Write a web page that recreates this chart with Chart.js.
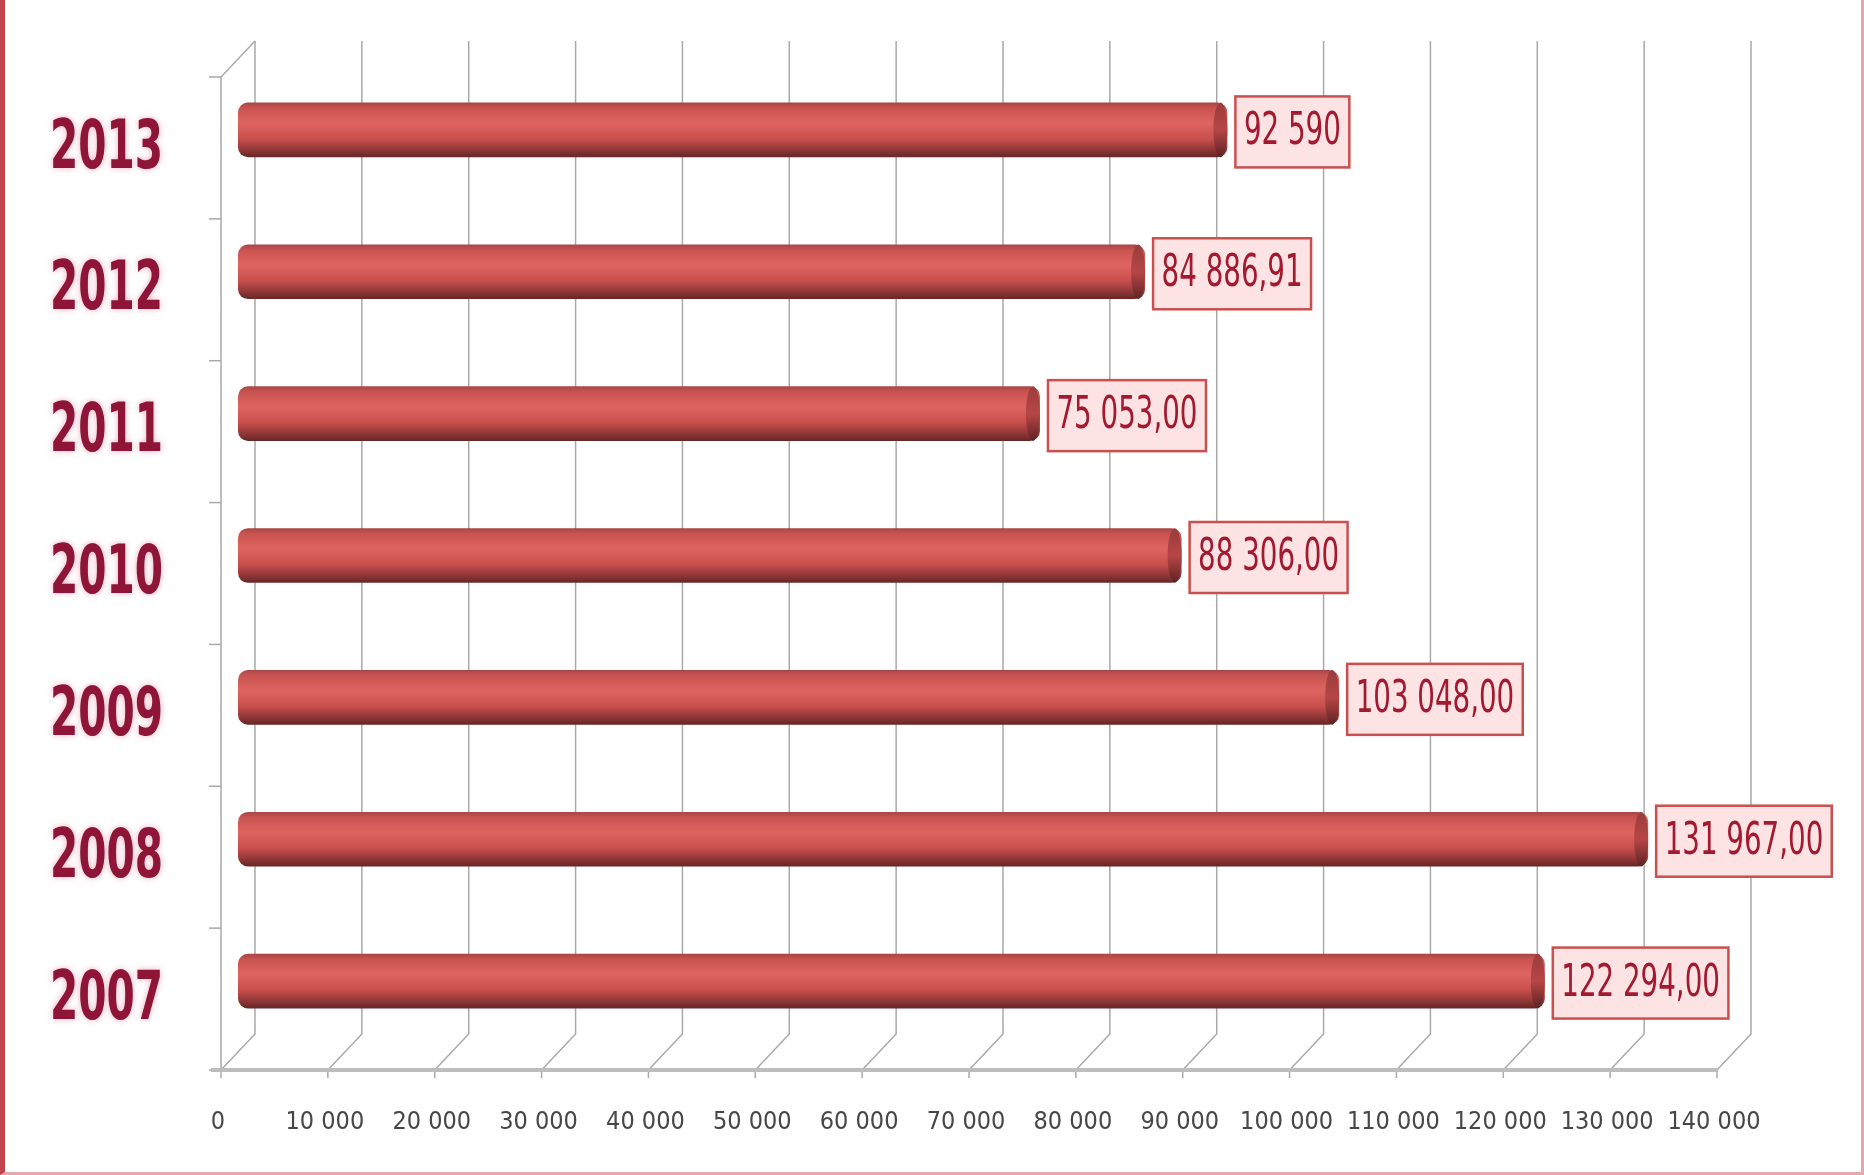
<!DOCTYPE html>
<html>
<head>
<meta charset="utf-8">
<script src="https://cdn.jsdelivr.net/npm/chart.js@4.4.1/dist/chart.umd.min.js"></script>
<style>
  html, body { margin:0; padding:0; background:#fff; }
  #wrap { position:relative; width:1864px; height:1175px; }
  #frame { position:absolute; left:0; top:0; width:1864px; height:1175px; box-sizing:border-box;
           border-left:5px solid #c0444a; border-right:3px solid #e6a9ab; border-bottom:3px solid #e6a9ab; pointer-events:none; }
</style>
</head>
<body>
<div id="wrap">
  <canvas id="chart" width="1864" height="1175"></canvas>
  <div id="frame"></div>
</div>
<script>
// data
const years = ['2013', '2012', '2011', '2010', '2009', '2008', '2007'];
const values = [92590, 84886.91, 75053.00, 88306.00, 103048.00, 131967.00, 122294.00];
const valueLabels = ['92 590', '84 886,91', '75 053,00', '88 306,00', '103 048,00', '131 967,00', '122 294,00'];
const xTickLabels = ['0', '10 000', '20 000', '30 000', '40 000', '50 000', '60 000', '70 000',
  '80 000', '90 000', '100 000', '110 000', '120 000', '130 000', '140 000'];

const NARROW = "'DejaVu Sans Condensed', 'Liberation Sans', sans-serif";
const DX = 17, DY = 18; // half depth of the fake 3d box
const BAR_PCT = 0.385;

function barBox(chart, i){
  const y = chart.scales.y;
  const step = y.getPixelForValue(1) - y.getPixelForValue(0);
  const h = step * BAR_PCT;
  const yc = y.getPixelForValue(i);
  return { top: yc - h/2, bottom: yc + h/2, h };
}

function cylinderFill(ctx){
  const chart = ctx.chart;
  if (!chart.chartArea || ctx.dataIndex === undefined) return '#d05654';
  const b = barBox(chart, ctx.dataIndex);
  const g = chart.ctx.createLinearGradient(0, b.top, 0, b.bottom);
  g.addColorStop(0, '#a84545');
  g.addColorStop(0.1, '#c95350');
  g.addColorStop(0.38, '#de6461');
  g.addColorStop(0.66, '#c94f4d');
  g.addColorStop(0.86, '#913737');
  g.addColorStop(1, '#662626');
  return g;
}

// condensed text: draw squeezed horizontally
function squeezed(ctx, text, x, y, sx, align){
  ctx.save();
  ctx.translate(x, y);
  ctx.scale(sx, 1);
  ctx.textAlign = align;
  ctx.textBaseline = 'middle';
  ctx.fillText(text, 0, 0);
  ctx.restore();
}

const frame3d = {
  id: 'frame3d',
  beforeDatasetsDraw(chart){
    const { ctx, chartArea: ca, scales: { x, y } } = chart;
    const n = xTickLabels.length;
    const step = (x.max - x.min) / (n - 1);
    ctx.save();
    // back wall gridlines + floor diagonals
    ctx.strokeStyle = '#a9a9a9';
    ctx.lineWidth = 1.5;
    for (let i = 0; i < n; i++){
      const px = x.getPixelForValue(x.min + i*step);
      ctx.beginPath();
      ctx.moveTo(px + DX, ca.top - DY);
      ctx.lineTo(px + DX, ca.bottom - DY);
      ctx.lineTo(px - DX, ca.bottom + DY);
      ctx.lineTo(px - DX, ca.bottom + DY + 8);
      ctx.stroke();
    }
    // left front axis + top diagonal
    const x0 = x.getPixelForValue(x.min);
    ctx.beginPath();
    ctx.moveTo(x0 + DX, ca.top - DY);
    ctx.lineTo(x0 - DX, ca.top + DY);
    ctx.lineTo(x0 - DX, ca.bottom + DY);
    ctx.stroke();
    const half = (y.getPixelForValue(1) - y.getPixelForValue(0)) / 2;
    for (let i = 0; i <= years.length; i++){
      const py = y.getPixelForValue(i) - half + DY;
      ctx.beginPath();
      ctx.moveTo(x0 - DX - 12, py);
      ctx.lineTo(x0 - DX, py);
      ctx.stroke();
    }
    // front floor edge
    ctx.strokeStyle = '#bdbdbd';
    ctx.lineWidth = 4;
    ctx.beginPath();
    ctx.moveTo(x0 - DX - 10, ca.bottom + DY);
    ctx.lineTo(x.getPixelForValue(x.max) - DX, ca.bottom + DY);
    ctx.stroke();

    // year labels (category axis), squeezed like the original narrow bold face
    ctx.fillStyle = '#8e1538';
    ctx.shadowColor = 'rgba(214,110,140,0.55)';
    ctx.shadowBlur = 6;
    ctx.font = 'bold 68px ' + NARROW;
    years.forEach((yr, i) => {
      const w = ctx.measureText(yr).width;
      squeezed(ctx, yr, x0 - 75, y.getPixelForValue(i) + 20, 113 / w, 'right');
    });
    ctx.restore();
  },
  afterDatasetsDraw(chart){
    const { ctx } = chart;
    const meta = chart.getDatasetMeta(0);
    ctx.save();
    meta.data.forEach((bar, i) => {
      const b = barBox(chart, i);
      // end cap of the cylinder
      const g = ctx.createLinearGradient(0, b.top, 0, b.bottom);
      g.addColorStop(0, '#9a3c3c');
      g.addColorStop(0.5, '#b64646');
      g.addColorStop(1, '#5e2222');
      ctx.fillStyle = g;
      ctx.beginPath();
      ctx.ellipse(bar.x - 7, bar.y, 7, b.h/2, 0, 0, Math.PI*2);
      ctx.fill();
      // value box
      ctx.font = '44px ' + NARROW;
      const sx = 0.7;
      const tw = ctx.measureText(valueLabels[i]).width * sx;
      const bx = bar.x + 8, bh = 71, bw = tw + 17, by = bar.y + 2 - bh/2;
      ctx.fillStyle = '#fde3e3';
      ctx.strokeStyle = '#c9504f';
      ctx.lineWidth = 2.5;
      ctx.fillRect(bx, by, bw, bh);
      ctx.strokeRect(bx, by, bw, bh);
      ctx.fillStyle = '#a3192f';
      squeezed(ctx, valueLabels[i], bx + bw/2, by + bh/2 + 1, sx, 'center');
    });
    ctx.restore();
  }
};

new Chart(document.getElementById('chart'), {
  type: 'bar',
  data: {
    labels: years,
    datasets: [{
      data: values,
      backgroundColor: cylinderFill,
      borderWidth: 0,
      borderRadius: 10,
      borderSkipped: false,
      barPercentage: BAR_PCT,
      categoryPercentage: 1
    }]
  },
  options: {
    indexAxis: 'y',
    responsive: false,
    animation: false,
    layout: { padding: { left: 0, right: 130, top: 59, bottom: 0 } },
    plugins: { legend: { display: false }, tooltip: { enabled: false } },
    scales: {
      x: {
        min: 0, max: 140000,
        grid: { display: false },
        border: { display: false },
        afterFit(scale){ scale.height = 123; },
        ticks: {
          stepSize: 10000,
          autoSkip: false,
          maxRotation: 0,
          padding: 47,
          labelOffset: -20,
          color: '#474747',
          font: { family: NARROW, size: 25 },
          callback: (v, i) => xTickLabels[i]
        }
      },
      y: {
        grid: { display: false },
        border: { display: false },
        afterFit(scale){ scale.width = 238; },
        ticks: { display: false }
      }
    }
  },
  plugins: [frame3d]
});
</script>
</body>
</html>
